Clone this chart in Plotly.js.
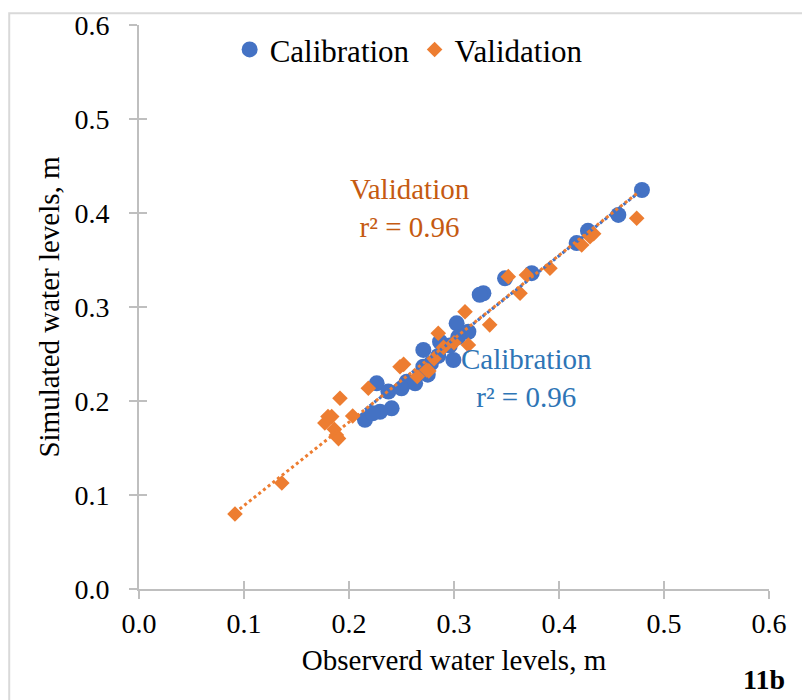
<!DOCTYPE html>
<html>
<head>
<meta charset="utf-8">
<script src="https://cdn.plot.ly/plotly-3.0.1.min.js"></script>
<style>html,body{margin:0;padding:0;background:#fff;}#chart{width:802px;height:700px;}</style>
</head>
<body>
<div id="chart"></div>
<script>
// Calibration series (observed, simulated)
const calibObs = [0.479, 0.4565, 0.4276, 0.4168, 0.374, 0.3486, 0.328, 0.3245, 0.3025, 0.3137, 0.2994, 0.2708, 0.2867, 0.304, 0.296, 0.2708, 0.278, 0.2264, 0.2375, 0.255, 0.263, 0.25, 0.2406, 0.2295, 0.2152, 0.2225, 0.275, 0.285];
const calibSim = [0.4245, 0.398, 0.381, 0.368, 0.336, 0.3305, 0.3146, 0.313, 0.2826, 0.2737, 0.2436, 0.2543, 0.263, 0.268, 0.259, 0.2365, 0.24, 0.2188, 0.21, 0.2205, 0.2188, 0.2135, 0.1922, 0.1886, 0.18, 0.187, 0.228, 0.248];
// Validation series (observed, simulated)
const validObs = [0.0914, 0.136, 0.1914, 0.1835, 0.177, 0.188, 0.186, 0.19, 0.2035, 0.2184, 0.2486, 0.252, 0.274, 0.265, 0.285, 0.29, 0.3105, 0.334, 0.3137, 0.3, 0.281, 0.276, 0.3517, 0.3629, 0.369, 0.3914, 0.4216, 0.4295, 0.433, 0.474, 0.18];
const validSim = [0.0798, 0.1128, 0.2029, 0.1834, 0.1766, 0.1638, 0.17, 0.16, 0.184, 0.2135, 0.2365, 0.239, 0.233, 0.226, 0.272, 0.257, 0.295, 0.281, 0.2596, 0.262, 0.245, 0.232, 0.3323, 0.3146, 0.334, 0.3412, 0.366, 0.3748, 0.378, 0.3944, 0.1834];
const tickVals = [0, 0.1, 0.2, 0.3, 0.4, 0.5, 0.6];
const tickText = ['0.0', '0.1', '0.2', '0.3', '0.4', '0.5', '0.6'];
const seriesNames = ['Calibration', 'Validation'];
const r2Labels = ['Calibration<br>r² = 0.96', 'Validation<br>r² = 0.96'];

// linear trendline with intercept set to zero, spanning the data's x range
function fitOrigin(xs, ys) {
  let sxy = 0, sxx = 0;
  for (let i = 0; i < xs.length; i++) { sxy += xs[i] * ys[i]; sxx += xs[i] * xs[i]; }
  const m = sxy / sxx;
  const x0 = Math.min(...xs), x1 = Math.max(...xs);
  return { x: [x0, x1], y: [m * x0, m * x1] };
}
const fc = fitOrigin(calibObs, calibSim);
const fv = fitOrigin(validObs, validSim);

const BLUE = '#4472c4', ORANGE = '#ed7d31';
const FONT = 'Liberation Serif';

const traces = [
  { x: calibObs, y: calibSim, name: seriesNames[0], mode: 'markers', type: 'scatter',
    marker: { color: BLUE, size: 16, symbol: 'circle' }, hoverinfo: 'x+y' },
  { x: validObs, y: validSim, name: seriesNames[1], mode: 'markers', type: 'scatter',
    marker: { color: ORANGE, size: 12, symbol: 'diamond' }, hoverinfo: 'x+y' },
  { x: fc.x, y: fc.y, mode: 'lines', showlegend: false, hoverinfo: 'skip',
    line: { color: BLUE, width: 3, dash: 'dot' } },
  { x: fv.x, y: fv.y, mode: 'lines', showlegend: false, hoverinfo: 'skip',
    line: { color: ORANGE, width: 3, dash: 'dot' } },
  { x: [], y: [], xaxis: 'x2', yaxis: 'y2', showlegend: false, hoverinfo: 'skip', mode: 'markers' }
];

const axCommon = {
  range: [0, 0.6], tickvals: tickVals, ticktext: tickText, showgrid: false, zeroline: false,
  showline: true, linecolor: '#bfbfbf', linewidth: 2, ticks: 'outside', ticklen: 8,
  tickwidth: 2, tickcolor: '#bfbfbf', tickfont: { family: FONT, size: 28, color: '#000' }
};

const layout = {
  width: 802, height: 700,
  margin: { l: 139, r: 33, t: 25, b: 111 },
  paper_bgcolor: '#fff', plot_bgcolor: '#fff',
  font: { family: FONT, color: '#000' },
  xaxis: Object.assign({}, axCommon, {
    ticklabelstandoff: 0,
    title: { text: 'Observerd water levels, m', font: { family: FONT, size: 29, color: '#000' }, standoff: 12 }
  }),
  yaxis: Object.assign({}, axCommon, {
    ticklabelstandoff: 14,
    title: { text: 'Simulated water levels, m', font: { family: FONT, size: 29, color: '#000' }, standoff: 6 }
  }),
  xaxis2: { overlaying: 'x', anchor: 'y', range: [0, 0.6], tickvals: tickVals, showticklabels: false,
    ticks: 'inside', ticklen: 8, tickwidth: 2, tickcolor: '#bfbfbf', showgrid: false, zeroline: false, showline: false },
  yaxis2: { overlaying: 'y', anchor: 'x', range: [0, 0.6], tickvals: tickVals, showticklabels: false,
    ticks: 'inside', ticklen: 8, tickwidth: 2, tickcolor: '#bfbfbf', showgrid: false, zeroline: false, showline: false },
  showlegend: true,
  legend: { orientation: 'h', x: 0.428, xanchor: 'center', y: 0.956, yanchor: 'middle',
    font: { family: FONT, size: 31, color: '#000' }, bgcolor: 'rgba(0,0,0,0)', itemwidth: 30, tracegroupgap: 0 },
  annotations: [
    { xref: 'x', yref: 'y', x: 0.3695, y: 0.2245, text: r2Labels[0], showarrow: false,
      font: { family: FONT, size: 29, color: '#2e75b6' }, align: 'center' },
    { xref: 'x', yref: 'y', x: 0.258, y: 0.405, text: r2Labels[1], showarrow: false,
      font: { family: FONT, size: 29, color: '#c55a11' }, align: 'center' },
    { xref: 'paper', yref: 'paper', x: 1.028, y: -0.16, xanchor: 'right', yanchor: 'middle', text: '<b>11b</b>',
      showarrow: false, font: { family: FONT, size: 28, color: '#000' } }
  ],
  shapes: [
    { type: 'rect', xref: 'paper', yref: 'paper', x0: -0.206, x1: 1.2, y0: -0.4, y1: 1.021,
      line: { color: '#d9d9d9', width: 2 }, fillcolor: 'rgba(0,0,0,0)', layer: 'below' }
  ]
};

Plotly.newPlot('chart', traces, layout, { displayModeBar: false, staticPlot: true });
</script>
</body>
</html>
